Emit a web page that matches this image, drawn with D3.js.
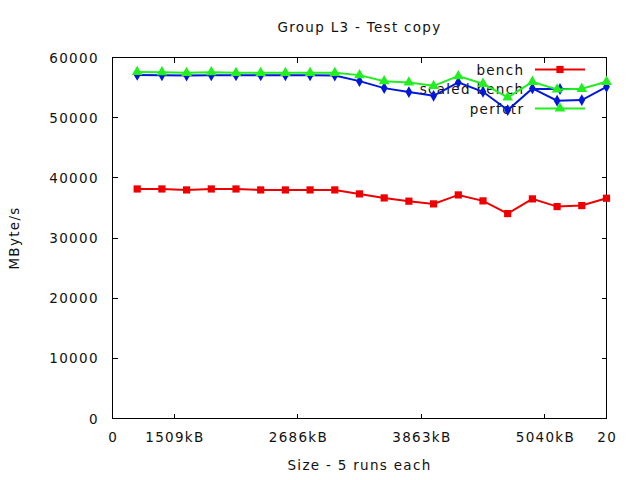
<!DOCTYPE html>
<meta charset="utf-8">
<style>
body { margin: 0; background: #fff; }
text {
  font-family: "DejaVu Sans", sans-serif;
  font-size: 13.5px;
  letter-spacing: 1.3px;
  fill: #111;
}
.frame { fill: none; stroke: #000; stroke-width: 1px; shape-rendering: crispEdges; }
.tick { stroke: #000; stroke-width: 1px; shape-rendering: crispEdges; }
</style>
<svg width="640" height="480"></svg>
<script src="https://d3js.org/d3.v7.min.js"></script>
<script>

var runs = d3.range(1, 21);
var bench = [38150, 38150, 37990, 38150, 38150, 37990, 37990, 37990, 37990, 37330,
             36660, 36120, 35670, 37160, 36170, 34060, 36500, 35220, 35390, 36610];
var scaledBench = [57100, 57050, 57000, 57050, 57050, 57050, 57050, 57050, 57000, 56070,
                   54910, 54250, 53640, 55860, 54300, 51260, 54860, 52810, 52920, 55130];
var perfctr = [57600, 57550, 57450, 57550, 57450, 57450, 57450, 57450, 57450, 57070,
               56070, 55860, 55290, 56900, 55630, 53370, 55960, 54700, 54800, 55960];
var xTickVals = [0, 2.5, 7.5, 12.5, 17.5, 20];
var xTickLabels = ["0", "1509kB", "2686kB", "3863kB", "5040kB", "20"];
var yTickVals = [0, 10000, 20000, 30000, 40000, 50000, 60000];

var svg = d3.select("svg"),
    margin = {top: 57.5, right: 33.5, bottom: 61.5, left: 112.5},
    width = +svg.attr("width") - margin.left - margin.right,
    height = +svg.attr("height") - margin.top - margin.bottom;

var x = d3.scaleLinear().domain([0, 20]).range([margin.left, margin.left + width]);
var y = d3.scaleLinear().domain([0, 60000]).range([margin.top + height, margin.top]);

var tickLen = 5;
var ls = 1.3; // trailing letter spacing

// x ticks, bottom and mirrored on top
xTickVals.slice(1, -1).forEach(function(v) {
  svg.append("line").attr("class", "tick")
    .attr("x1", x(v)).attr("x2", x(v))
    .attr("y1", y(0)).attr("y2", y(0) - tickLen);
  svg.append("line").attr("class", "tick")
    .attr("x1", x(v)).attr("x2", x(v))
    .attr("y1", y(60000)).attr("y2", y(60000) + tickLen);
});
svg.selectAll(".xlab")
  .data(xTickVals)
  .enter().append("text")
    .attr("x", function(d) { return x(d) + ls / 2; })
    .attr("y", y(0) + 23)
    .attr("text-anchor", "middle")
    .text(function(d, i) { return xTickLabels[i]; });

// y ticks, left and mirrored on the right
yTickVals.slice(1, -1).forEach(function(v) {
  svg.append("line").attr("class", "tick")
    .attr("x1", x(0)).attr("x2", x(0) + tickLen)
    .attr("y1", y(v)).attr("y2", y(v));
  svg.append("line").attr("class", "tick")
    .attr("x1", x(20)).attr("x2", x(20) - tickLen)
    .attr("y1", y(v)).attr("y2", y(v));
});
svg.selectAll(".ylab")
  .data(yTickVals)
  .enter().append("text")
    .attr("x", x(0) - 15 + ls)
    .attr("y", function(d) { return y(d) + 5; })
    .attr("text-anchor", "end")
    .text(function(d) { return d; });

svg.append("rect").attr("class", "frame")
  .attr("x", x(0)).attr("y", y(60000))
  .attr("width", width).attr("height", height);

svg.append("text")
  .attr("x", (x(0) + x(20)) / 2).attr("y", 32)
  .attr("text-anchor", "middle")
  .text("Group L3 - Test copy");

svg.append("text")
  .attr("x", (x(0) + x(20)) / 2).attr("y", 470)
  .attr("text-anchor", "middle")
  .text("Size - 5 runs each");

svg.append("text")
  .attr("transform", "translate(19," + ((y(0) + y(60000)) / 2) + ") rotate(-90)")
  .attr("text-anchor", "middle")
  .text("MByte/s");

var series = [
  {name: "bench", values: bench, color: "#ee0000", shape: d3.symbolSquare, size: 52},
  {name: "scaled bench", values: scaledBench, color: "#0018d8", shape: d3.symbolDiamond, size: 40},
  {name: "perfctr", values: perfctr, color: "#22ee22", shape: d3.symbolTriangle, size: 50}
];

var keyX = 523, keyY = [69.5, 89, 108.5];

// key labels go under the lines
series.forEach(function(s, k) {
  svg.append("text")
    .attr("x", keyX + ls).attr("y", keyY[k] + 5)
    .attr("text-anchor", "end")
    .text(s.name);
});

var line = d3.line()
  .x(function(d, i) { return x(runs[i]); })
  .y(function(d) { return y(d); });

series.forEach(function(s, k) {
  var g = svg.append("g");
  // key sample
  g.append("line")
    .attr("x1", keyX + 12).attr("x2", keyX + 62)
    .attr("y1", keyY[k]).attr("y2", keyY[k])
    .attr("stroke", s.color).attr("stroke-width", 2);
  g.append("path")
    .attr("d", d3.symbol().type(s.shape).size(s.size)())
    .attr("transform", "translate(" + (keyX + 37) + "," + keyY[k] + ")")
    .attr("fill", s.color);

  g.append("path")
    .attr("d", line(s.values))
    .attr("fill", "none")
    .attr("stroke", s.color)
    .attr("stroke-width", 2);
  g.selectAll(".pt")
    .data(s.values)
    .enter().append("path")
      .attr("d", d3.symbol().type(s.shape).size(s.size)())
      .attr("transform", function(d, i) { return "translate(" + x(runs[i]) + "," + y(d) + ")"; })
      .attr("fill", s.color);
});

</script>
